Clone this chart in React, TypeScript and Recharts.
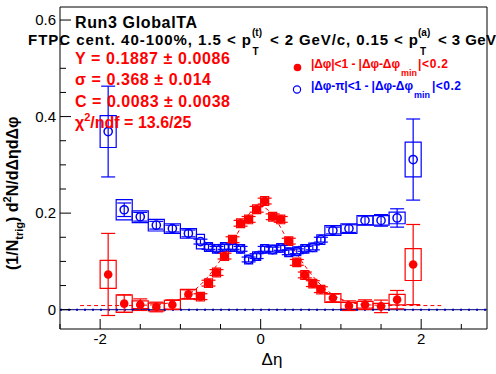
import React from 'react';
import { ComposedChart, XAxis, YAxis, Scatter, ErrorBar, Line, ReferenceArea, ReferenceLine } from 'recharts';

// Δη bin centres and half widths
const etaBins = [-1.9, -1.7, -1.5, -1.3, -1.1, -0.9, -0.75, -0.65, -0.55, -0.45, -0.35, -0.25, -0.15, -0.05, 0.05, 0.15, 0.25, 0.35, 0.45, 0.55, 0.65, 0.75, 0.9, 1.1, 1.3, 1.5, 1.7, 1.9];
const binHalfWidths = [0.1, 0.1, 0.1, 0.1, 0.1, 0.1, 0.05, 0.05, 0.05, 0.05, 0.05, 0.05, 0.05, 0.05, 0.05, 0.05, 0.05, 0.05, 0.05, 0.05, 0.05, 0.05, 0.1, 0.1, 0.1, 0.1, 0.1, 0.1];

// near side: |Δφ|<1 - |Δφ-Δφmin|<0.2
const nearValues = [0.073, 0.0125, 0.0104, 0.0056, 0.0104, 0.032, 0.027, 0.055, 0.077, 0.111, 0.145, 0.179, 0.187, 0.208, 0.225, 0.1925, 0.187, 0.142, 0.098, 0.072, 0.054, 0.0415, 0.0243, 0.0083, 0.0104, 0.0069, 0.0208, 0.0935];
const nearStat = [0.085, 0.018, 0.012, 0.01, 0.01, 0.009, 0.006, 0.006, 0.006, 0.006, 0.006, 0.006, 0.006, 0.006, 0.006, 0.006, 0.006, 0.006, 0.006, 0.006, 0.006, 0.006, 0.008, 0.01, 0.01, 0.013, 0.019, 0.083];
const nearSys = [0.029, 0.018, 0.008, 0.008, 0.009, 0.01, 0.009, 0.009, 0.009, 0.009, 0.009, 0.009, 0.009, 0.009, 0.009, 0.009, 0.009, 0.009, 0.009, 0.009, 0.009, 0.009, 0.009, 0.007, 0.007, 0.006, 0.011, 0.033];

// away side: |Δφ-π|<1 - |Δφ-Δφmin|<0.2
const awayValues = [0.369, 0.207, 0.1925, 0.175, 0.168, 0.158, 0.141, 0.13, 0.126, 0.13, 0.13, 0.126, 0.104, 0.111, 0.126, 0.1246, 0.128, 0.119, 0.121, 0.126, 0.129, 0.145, 0.164, 0.168, 0.185, 0.185, 0.19, 0.311];
const awayStat = [0.094, 0.014, 0.009, 0.008, 0.007, 0.007, 0.005, 0.005, 0.005, 0.005, 0.005, 0.005, 0.005, 0.005, 0.005, 0.005, 0.005, 0.005, 0.005, 0.005, 0.005, 0.005, 0.007, 0.008, 0.009, 0.012, 0.019, 0.084];
const awaySys = [0.033, 0.021, 0.012, 0.012, 0.01, 0.01, 0.015, 0.009, 0.009, 0.009, 0.009, 0.009, 0.009, 0.009, 0.009, 0.009, 0.009, 0.009, 0.009, 0.009, 0.009, 0.01, 0.01, 0.01, 0.01, 0.01, 0.012, 0.036];

// fit curve (dashed)
const fitEta = [-2.25, -1.6, -1.3, -1.1, -0.9, -0.7, -0.5, -0.3, -0.15, 0, 0.15, 0.3, 0.5, 0.7, 0.9, 1.1, 1.3, 1.6, 2.25];
const fitValues = [0.0085, 0.0088, 0.0105, 0.016, 0.031, 0.06, 0.103, 0.155, 0.197, 0.213, 0.197, 0.155, 0.103, 0.06, 0.031, 0.016, 0.0105, 0.0088, 0.0085];

const xTicks = [-2.5, -2, -1.5, -1, -0.5, 0, 0.5, 1, 1.5, 2, 2.5];
const xMajorTicks = [-2, 0, 2];
const yTicks = [0, 0.05, 0.1, 0.15, 0.2, 0.25, 0.3, 0.35, 0.4, 0.45, 0.5, 0.55, 0.6];
const yMajorTicks = [0, 0.2, 0.4, 0.6];
const yMajorLabels = ['0', '0.2', '0.4', '0.6'];

const X_DOMAIN: [number, number] = [-2.5, 2.82];
const Y_DOMAIN: [number, number] = [-0.04, 0.627];

const FONT = '"Liberation Sans", Arial, Helvetica, sans-serif';
const RED = '#ff0000';
const BLUE = '#0000ff';

const nearData = etaBins.map((e, i) => ({ x: e, y: nearValues[i], err: nearStat[i] }));
const awayData = etaBins.map((e, i) => ({ x: e, y: awayValues[i], err: awayStat[i] }));
const fitData = fitEta.map((e, i) => ({ x: e, y: fitValues[i] }));

const isIn = (arr: number[], v: number) => arr.findIndex((m) => Math.abs(m - v) < 1e-6);

const XTick = (props: any) => {
  const { x, y, payload } = props;
  const v = payload.value;
  const major = isIn(xMajorTicks, v) >= 0;
  return (
    <g>
      <line x1={x} x2={x} y1={y} y2={y - (major ? 10 : 5)} stroke="#000" strokeWidth={1} />
      {major && (
        <text x={x} y={y + 15} textAnchor="middle" fontFamily={FONT} fontSize={15} fill="#000">
          {String(v)}
        </text>
      )}
    </g>
  );
};

const YTick = (props: any) => {
  const { x, y, payload } = props;
  const v = payload.value;
  const idx = isIn(yMajorTicks, v);
  const major = idx >= 0;
  return (
    <g>
      <line x1={x} x2={x + (major ? 11 : 6)} y1={y} y2={y} stroke="#000" strokeWidth={1} />
      {major && (
        <text x={x - 4} y={y + 5} textAnchor="end" fontFamily={FONT} fontSize={15} fill="#000">
          {yMajorLabels[idx]}
        </text>
      )}
    </g>
  );
};

const RedDot = (p: any) => <circle cx={p.cx} cy={p.cy} r={4.3} fill={RED} />;
const BlueDot = (p: any) => <circle cx={p.cx} cy={p.cy} r={4.1} fill="none" stroke={BLUE} strokeWidth={1.5} />;

export default function App() {
  return (
    <div style={{ position: 'absolute', left: 0, top: 0, width: 496, height: 374, background: '#fff' }}>
      <ComposedChart width={496} height={374} margin={{ top: 7, right: 9, bottom: 0, left: 0 }}>
        <XAxis
          type="number"
          dataKey="x"
          domain={X_DOMAIN}
          allowDataOverflow
          ticks={xTicks}
          interval={0}
          tickSize={0}
          tickMargin={0}
          tickLine={false}
          axisLine={false}
          tick={<XTick />}
          height={45}
        />
        <YAxis
          type="number"
          dataKey="y"
          domain={Y_DOMAIN}
          allowDataOverflow
          ticks={yTicks}
          interval={0}
          tickSize={0}
          tickMargin={0}
          tickLine={false}
          axisLine={false}
          tick={<YTick />}
          width={60}
        />
        <ReferenceArea x1={X_DOMAIN[0]} x2={X_DOMAIN[1]} y1={Y_DOMAIN[0]} y2={Y_DOMAIN[1]} fill="none" stroke="#000" strokeWidth={1} ifOverflow="visible" />
        <ReferenceLine y={0} stroke="#000080" strokeWidth={1} ifOverflow="visible" />
        <ReferenceLine y={0} stroke="#0000b0" strokeWidth={2} strokeDasharray="2 6" ifOverflow="visible" />
        {etaBins.map((e, i) => (
          <ReferenceArea
            key={'ab' + i}
            x1={e - binHalfWidths[i]}
            x2={e + binHalfWidths[i]}
            y1={awayValues[i] - awaySys[i]}
            y2={awayValues[i] + awaySys[i]}
            fill="none"
            stroke={BLUE}
            strokeWidth={1.2}
            ifOverflow="visible"
          />
        ))}
        {etaBins.map((e, i) => (
          <ReferenceArea
            key={'nb' + i}
            x1={e - binHalfWidths[i]}
            x2={e + binHalfWidths[i]}
            y1={nearValues[i] - nearSys[i]}
            y2={nearValues[i] + nearSys[i]}
            fill="none"
            stroke={RED}
            strokeWidth={1.2}
            ifOverflow="visible"
          />
        ))}
        <Line data={fitData} dataKey="y" type="monotone" stroke={RED} strokeWidth={1} strokeDasharray="4 3" dot={false} activeDot={false} isAnimationActive={false} />
        <Scatter data={awayData} dataKey="y" fill={BLUE} shape={BlueDot} isAnimationActive={false}>
          <ErrorBar dataKey="err" direction="y" width={7} stroke={BLUE} strokeWidth={1.2} />
        </Scatter>
        <Scatter data={nearData} dataKey="y" fill={RED} shape={RedDot} isAnimationActive={false}>
          <ErrorBar dataKey="err" direction="y" width={7} stroke={RED} strokeWidth={1.2} />
        </Scatter>
      </ComposedChart>
      <svg width={496} height={374} style={{ position: 'absolute', left: 0, top: 0, pointerEvents: 'none' }} fontFamily={FONT}>
        <text x={75} y={28} fontSize={16} fontWeight="bold" fill="#000" textLength={122} lengthAdjust="spacing">Run3 GlobalTA</text>
        <text y={45} fontSize={15} fontWeight="bold" fill="#000">
          <tspan x={28} textLength={223} lengthAdjust="spacing">FTPC cent. 40-100%, 1.5 &lt; p</tspan>
          <tspan x={252} y={36} fontSize={10}>(t)</tspan>
          <tspan x={252.5} y={55} fontSize={10}>T</tspan>
          <tspan x={270} y={45} textLength={148} lengthAdjust="spacing">{'< 2 GeV/c, 0.15 < p'}</tspan>
          <tspan x={418} y={36} fontSize={10}>(a)</tspan>
          <tspan x={420} y={55} fontSize={10}>T</tspan>
          <tspan x={438} y={45} textLength={58} lengthAdjust="spacing">{'< 3 GeV'}</tspan>
        </text>
        <g fill={RED} fontSize={16} fontWeight="bold">
          <text x={75} y={64} textLength={155} lengthAdjust="spacing">Y = 0.1887 ± 0.0086</text>
          <text x={75} y={85} textLength={136} lengthAdjust="spacing">σ = 0.368 ± 0.014</text>
          <text x={75} y={107} textLength={155} lengthAdjust="spacing">C = 0.0083 ± 0.0038</text>
          <text x={75} y={128}>
            <tspan>χ</tspan>
            <tspan fontSize={11} dy={-7}>2</tspan>
            <tspan dy={7}>/ndf = 13.6/25</tspan>
          </text>
        </g>
        <circle cx={297.5} cy={67.5} r={3.8} fill={RED} />
        <text y={68} fontSize={12} fontWeight="bold" fill={RED}>
          <tspan x={311} textLength={89} lengthAdjust="spacing">|Δφ|&lt;1 - |Δφ-Δφ</tspan>
          <tspan x={401} y={76} fontSize={9}>min</tspan>
          <tspan x={418} y={68} textLength={30} lengthAdjust="spacing">|&lt;0.2</tspan>
        </text>
        <circle cx={297} cy={89.5} r={3.6} fill="none" stroke={BLUE} strokeWidth={1.2} />
        <text y={90} fontSize={12} fontWeight="bold" fill={BLUE}>
          <tspan x={311} textLength={102} lengthAdjust="spacing">|Δφ-π|&lt;1 - |Δφ-Δφ</tspan>
          <tspan x={414} y={98} fontSize={9}>min</tspan>
          <tspan x={432} y={90} textLength={29} lengthAdjust="spacing">|&lt;0.2</tspan>
        </text>
        <text x={272} y={365} fontSize={17} textAnchor="middle" fill="#000">Δη</text>
        <text transform="rotate(-90)" x={-270} y={18} fontSize={16} fontWeight="bold" fill="#000">
          <tspan>(1/N</tspan>
          <tspan fontSize={11} dy={5}>trig</tspan>
          <tspan dy={-5}>) d</tspan>
          <tspan fontSize={11} dy={-7}>2</tspan>
          <tspan dy={7}>N/dΔηdΔφ</tspan>
        </text>
      </svg>
    </div>
  );
}
